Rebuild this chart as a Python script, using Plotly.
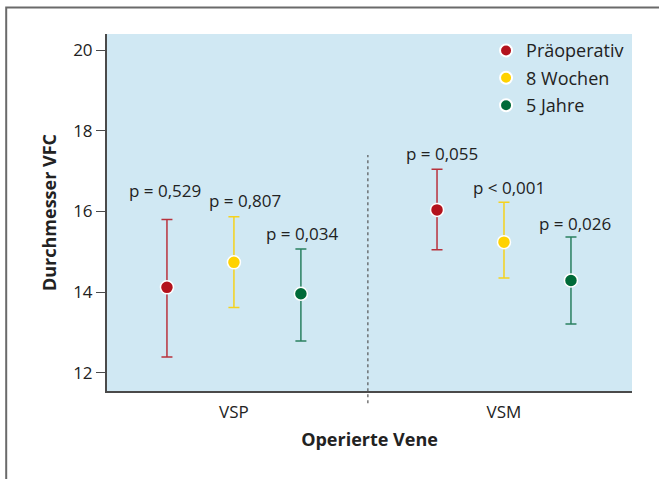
import plotly.graph_objects as go

categories = ["VSP", "VSM"]
series_names = ["Präoperativ", "8 Wochen", "5 Jahre"]
means = [[14.12, 16.04], [14.74, 15.24], [13.96, 14.29]]
upper = [[15.80, 17.05], [15.87, 16.23], [15.07, 15.37]]
lower = [[12.39, 15.05], [13.62, 14.35], [12.79, 13.21]]
p_labels = [["p = 0,529", "p = 0,055"], ["p = 0,807", "p < 0,001"], ["p = 0,034", "p = 0,026"]]
y_ticks = [12, 14, 16, 18, 20]

marker_colors = ["#b3121c", "#ffd200", "#006a38"]
err_colors = ["#b8323c", "#f5d21e", "#2a8060"]
offsets = [-0.248, 0.0, 0.248]
FONT = "Open Sans"
TXT = "#222222"

fig = go.Figure()
for s in range(3):
    xs = [i + offsets[s] for i in range(len(categories))]
    fig.add_trace(go.Scatter(
        x=xs, y=means[s], mode="markers", name=series_names[s],
        marker=dict(size=13, color=marker_colors[s], line=dict(color="white", width=1.5)),
        error_y=dict(type="data", symmetric=False,
                     array=[u - m for u, m in zip(upper[s], means[s])],
                     arrayminus=[m - l for m, l in zip(means[s], lower[s])],
                     color=err_colors[s], thickness=1.5, width=5.5),
        legendgroup=str(s),
    ))

yshifts = [[16, 2], [3, 1], [2, 0]]
xshifts = [[-2, 5], [11, 5], [2, 4]]
for s in range(3):
    for i in range(len(categories)):
        fig.add_annotation(x=i + offsets[s], y=upper[s][i], text=p_labels[s][i],
                           showarrow=False, yanchor="bottom", xanchor="center",
                           yshift=yshifts[s][i], xshift=xshifts[s][i],
                           font=dict(family=FONT, size=17, color=TXT))

# dotted separator
fig.add_shape(type="line", xref="x", yref="paper", x0=0.496, x1=0.496, y0=-0.034, y1=0.661,
              line=dict(color="#555555", width=1.2, dash="dot"))
# outer frame (top and left edges visible)
fig.add_shape(type="rect", xref="paper", yref="paper", x0=-0.192, x1=1.2, y0=-0.4, y1=1.074,
              line=dict(color="#6a6a6a", width=2), fillcolor="rgba(0,0,0,0)", layer="above")

fig.update_layout(
    width=659, height=479,
    margin=dict(l=107, r=27, t=34, b=88),
    paper_bgcolor="white", plot_bgcolor="#d0e8f3",
    font=dict(family=FONT, color=TXT),
    showlegend=True,
    legend=dict(x=0.722, y=1.005, xanchor="left", yanchor="top",
                bgcolor="rgba(0,0,0,0)", font=dict(family=FONT, size=18, color=TXT),
                itemsizing="constant", tracegroupgap=1),
)
fig.update_xaxes(range=[-0.470, 1.474], tickvals=[0, 1], ticktext=categories,
                 showgrid=False, zeroline=False, showline=True, linecolor="#4a4a4a", linewidth=2,
                 ticks="", ticklabelstandoff=5, tickfont=dict(family=FONT, size=17, color=TXT),
                 title=dict(text="<b>Operierte Vene</b>", font=dict(family=FONT, size=18, color=TXT), standoff=11))
fig.update_yaxes(range=[11.55, 20.40], tickvals=y_ticks,
                 showgrid=False, zeroline=False, showline=True, linecolor="#4a4a4a", linewidth=2,
                 ticks="outside", ticklen=9, tickcolor="#4a4a4a", tickwidth=1.2,
                 tickfont=dict(family=FONT, size=17, color=TXT),
                 title=dict(text="<b>Durchmesser VFC</b>", font=dict(family=FONT, size=18, color=TXT), standoff=12))

fig.write_html("out.html", config={"displayModeBar": False},
               post_script="document.body.style.margin='0';")
